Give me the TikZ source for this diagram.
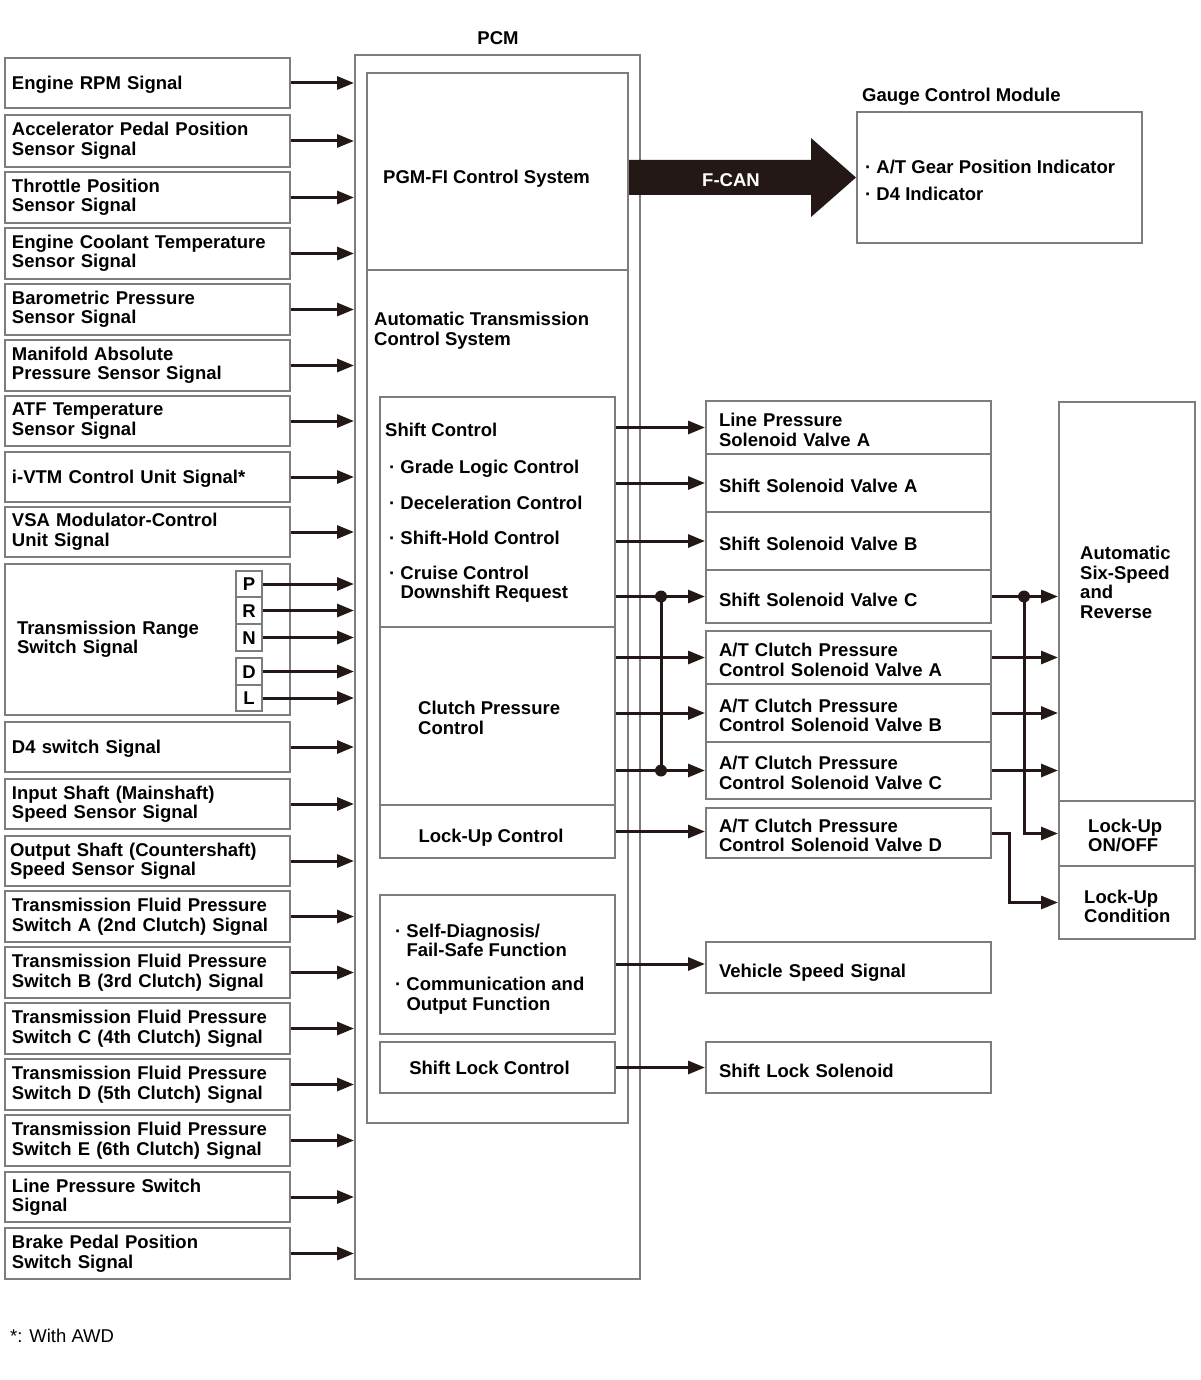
\documentclass[tikz,border=0pt]{standalone}
\usepackage{fontspec}
\setmainfont{Liberation Sans}
\usetikzlibrary{arrows.meta}
\definecolor{ink}{RGB}{35,24,21}
\definecolor{boxgray}{RGB}{125,125,125}
\newcommand{\fnt}{\fontsize{18.5}{19.5}\selectfont\bfseries}
\begin{document}
\begin{tikzpicture}[x=1pt,y=-1pt,
 box/.style={draw=boxgray, line width=2pt, inner sep=0pt, font=\fnt},
 one/.style={text height=13.2pt, text depth=0pt},
 inbox/.style={box, minimum height=#1, text width=271pt, inner xsep=7pt, align=left},
 outbox/.style={box, minimum height=#1, text width=259pt, inner xsep=13pt, align=left, text height=18.5pt},
 outone/.style={text height=19pt, text depth=0pt},
 arr/.style={draw=ink, line width=3pt, -{Triangle[length=17pt,width=13pt]}},
 wire/.style={draw=ink, line width=3pt},
 txt/.style={font=\fnt, inner sep=0pt, align=left},
 txt1/.style={txt, one},
 txtm/.style={txt, text depth=0pt},
 jdot/.style={circle, fill=ink, inner sep=0pt, minimum size=12pt}
]
\useasboundingbox (0,0) rectangle (1200,1380);

% ---------- PCM ----------
\node[box, minimum width=285pt, minimum height=1224pt] (pcm) at (497.5,667) {};
\node[txt1] (pcmT) at (498,38) {PCM};
\node[box, minimum width=261pt, minimum height=197pt] (pgm) at (497.5,171.5) {};
\node[txt1, anchor=west] (pgmT) at (383,177) {PGM-FI Control System};
\node[box, minimum width=261pt, minimum height=853pt] (atc) at (497.5,696.5) {};
\node[txtm, anchor=west] (atcT) at (374,329) {Automatic Transmission\\Control System};

\node[box, minimum width=235pt, minimum height=230pt] (scbox) at (497.5,512) {};
\node[txt1, anchor=west] (sc0) at (385,430) {Shift Control};
\node[txt1, anchor=west] (sc1) at (389,467) {· Grade Logic Control};
\node[txt1, anchor=west] (sc2) at (389,503) {· Deceleration Control};
\node[txt1, anchor=west] (sc3) at (389,538) {· Shift-Hold Control};
\node[txtm, anchor=west] (sc4) at (389,582.5) {· Cruise Control\\\phantom{· }Downshift Request};

\node[box, minimum width=235pt, minimum height=178pt] (cpc) at (497.5,716) {};
\node[txtm, anchor=west] (cpcT) at (418,718) {Clutch Pressure\\Control};
\node[box, minimum width=235pt, minimum height=53pt] (luc) at (497.5,831.5) {};
\node[txt1] (lucT) at (491,836) {Lock-Up Control};
\node[box, minimum width=235pt, minimum height=139pt] (sdbox) at (497.5,964.5) {};
\node[txtm, anchor=west] (sdT) at (395,967)
  {· Self-Diagnosis/\\\phantom{· }Fail-Safe Function\\[14.5pt]· Communication and\\\phantom{· }Output Function};
\node[box, minimum width=235pt, minimum height=51pt] (slc) at (497.5,1067.5) {};
\node[txt1] (slcT) at (489.5,1068) {Shift Lock Control};

% ---------- inputs ----------
\node[inbox=50, one] (in1) at (147.5,83) {Engine RPM Signal};
\node[inbox=52] (in2) at (147.5,141) {Accelerator Pedal Position\\Sensor Signal};
\node[inbox=51] (in3) at (147.5,197.5) {Throttle Position\\Sensor Signal};
\node[inbox=51] (in4) at (147.5,253.5) {Engine Coolant Temperature\\Sensor Signal};
\node[inbox=51] (in5) at (147.5,309.5) {Barometric Pressure\\Sensor Signal};
\node[inbox=51] (in6) at (147.5,365.5) {Manifold Absolute\\Pressure Sensor Signal};
\node[inbox=50] (in7) at (147.5,421) {ATF Temperature\\Sensor Signal};
\node[inbox=50, one] (in8) at (147.5,477) {i-VTM Control Unit Signal*};
\node[inbox=50] (in9) at (147.5,532) {VSA Modulator-Control\\Unit Signal};
\node[inbox=151, inner xsep=12pt, text width=261pt] (in10) at (147.5,639.5) {Transmission Range\\Switch Signal};
\node[inbox=50, one] (in11) at (147.5,747) {D4 switch Signal};
\node[inbox=50] (in12) at (147.5,804) {Input Shaft (Mainshaft)\\Speed Sensor Signal};
\node[inbox=50, inner xsep=5pt, text width=275pt] (in13) at (147.5,861) {Output Shaft (Countershaft)\\Speed Sensor Signal};
\node[inbox=51] (in14) at (147.5,916.5) {Transmission Fluid Pressure\\Switch A (2nd Clutch) Signal};
\node[inbox=51] (in15) at (147.5,972.5) {Transmission Fluid Pressure\\Switch B (3rd Clutch) Signal};
\node[inbox=51] (in16) at (147.5,1028.5) {Transmission Fluid Pressure\\Switch C (4th Clutch) Signal};
\node[inbox=51] (in17) at (147.5,1084.5) {Transmission Fluid Pressure\\Switch D (5th Clutch) Signal};
\node[inbox=51] (in18) at (147.5,1140.5) {Transmission Fluid Pressure\\Switch E (6th Clutch) Signal};
\node[inbox=50] (in19) at (147.5,1197) {Line Pressure Switch\\Signal};
\node[inbox=51] (in20) at (147.5,1253.5) {Brake Pedal Position\\Switch Signal};

\foreach \i in {1,...,9,11,12,13,14,15,16,17,18,19,20}
  \draw[arr] (in\i.east) -- (in\i.east -| pcm.west);

\node[box, one, minimum width=26pt, minimum height=26pt] (kP) at (249,584) {P};
\node[box, one, minimum width=26pt, minimum height=27pt] (kR) at (249,610.5) {R};
\node[box, one, minimum width=26pt, minimum height=27pt] (kN) at (249,637.5) {N};
\node[box, one, minimum width=26pt, minimum height=27pt] (kD) at (249,671.5) {D};
\node[box, one, minimum width=26pt, minimum height=26pt] (kL) at (249,698) {L};
\foreach \k in {P,R,N,D,L}
  \draw[arr] (k\k.east) -- (k\k.east -| pcm.west);

% ---------- gauge ----------
\node[txt1, anchor=west] (gT) at (862,95) {Gauge Control Module};
\node[box, minimum width=285pt, minimum height=131pt] (gauge) at (999.5,177.5) {};
\node[txt1, anchor=west] (g1) at (865,167) {· A/T Gear Position Indicator};
\node[txt1, anchor=west] (g2) at (865,194) {· D4 Indicator};
\fill[ink] (pgm.east |- 0,160) -- (811,160) -- (811,138) -- (gauge.west) -- (811,217) -- (811,195) -- (pgm.east |- 0,195) -- cycle;
\node[txt1, text=white] (fcan) at (731,180) {F-CAN};

% ---------- outputs ----------
\node[outbox=53] (lp) at (848.5,427.5) {Line Pressure\\Solenoid Valve A};
\node[outbox=58, outone] (sa) at (848.5,483) {Shift Solenoid Valve A};
\node[outbox=58, outone] (sb) at (848.5,541) {Shift Solenoid Valve B};
\node[outbox=53, outone] (sc) at (848.5,596.5) {Shift Solenoid Valve C};
\node[outbox=53] (ca) at (848.5,657.5) {A/T Clutch Pressure\\Control Solenoid Valve A};
\node[outbox=58] (cb) at (848.5,713) {A/T Clutch Pressure\\Control Solenoid Valve B};
\node[outbox=57] (cc) at (848.5,770.5) {A/T Clutch Pressure\\Control Solenoid Valve C};
\node[outbox=50] (cd) at (848.5,833) {A/T Clutch Pressure\\Control Solenoid Valve D};
\node[outbox=51, outone] (vss) at (848.5,967.5) {Vehicle Speed Signal};
\node[outbox=51, outone] (sls) at (848.5,1067.5) {Shift Lock Solenoid};

\node[box, minimum width=136pt, minimum height=399pt] (six) at (1127,601.5) {};
\node[txtm, anchor=west] (sixT) at (1080,582.5) {Automatic\\Six-Speed\\and\\Reverse};
\node[box, minimum width=136pt, minimum height=65pt] (lockon) at (1127,833.5) {};
\node[txtm, anchor=west] (lockonT) at (1088,835.5) {Lock-Up\\ON/OFF};
\node[box, minimum width=136pt, minimum height=73pt] (lockcond) at (1127,902.5) {};
\node[txtm, anchor=west] (lockcondT) at (1084,906.5) {Lock-Up\\Condition};

\draw[arr] (scbox.east |- lp.west) -- (lp.west);
\draw[arr] (scbox.east |- sa.west) -- (sa.west);
\draw[arr] (scbox.east |- sb.west) -- (sb.west);
\draw[arr] (scbox.east |- sc.west) -- (sc.west);
\draw[arr] (cpc.east |- ca.west) -- (ca.west);
\draw[arr] (cpc.east |- cb.west) -- (cb.west);
\draw[arr] (cpc.east |- cc.west) -- (cc.west);
\draw[arr] (luc.east) -- (luc.east -| cd.west);
\draw[arr] (sdbox.east |- 0,964) -- (vss.west |- 0,964);
\draw[arr] (slc.east) -- (slc.east -| sls.west);

\node[jdot] (j1) at (sc.west -| 661,0) {};
\node[jdot] (j2) at (cc.west -| 661,0) {};
\draw[wire] (j1.center) -- (j2.center);

\draw[arr] (sc.east) -- (sc.east -| six.west);
\draw[arr] (ca.east) -- (ca.east -| six.west);
\draw[arr] (cb.east) -- (cb.east -| six.west);
\draw[arr] (cc.east) -- (cc.east -| six.west);
\node[jdot] (j3) at (sc.east -| 1024,0) {};
\draw[arr] (j3.center) |- (lockon.west);
\draw[arr] (cd.east) -- ++(17,0) |- (lockcond.west);

% ---------- footnote ----------
\node[anchor=west, inner sep=0pt, one, font=\fontsize{18.5}{20}\selectfont] (fn) at (10,1336) {*: With AWD};
\end{tikzpicture}
\end{document}
